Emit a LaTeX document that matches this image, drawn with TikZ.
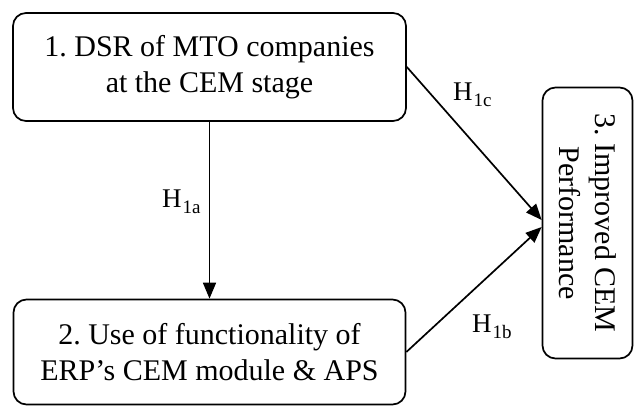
\documentclass[tikz,border=0pt]{standalone}
\usepackage{fontspec}
\setmainfont{Liberation Serif}
\usetikzlibrary{arrows.meta,calc}
\frenchspacing
% hypothesis label: H with a lowered index
\newcommand{\hyp}[1]{H\kern1pt\raisebox{-6pt}{\fontsize{19}{19}\selectfont #1}}
\begin{document}
\begin{tikzpicture}[x=1pt,y=-1pt,
  box/.style={draw, line width=1.7pt, rounded corners=13pt, inner sep=0pt,
    align=center, font=\fontsize{30}{36}\selectfont},
  link/.style={line width=1.7pt, -{Triangle[length=16pt,width=13pt]}},
  hlabel/.style={font=\fontsize{27}{27}\selectfont, inner sep=0pt, anchor=base west}]
\useasboundingbox (0,0) rectangle (636,407);

\node[box, minimum width=393pt, minimum height=108pt] (dsr) at (209.5,67)
  {1. DSR of MTO companies\\at the CEM stage};
\node[box, minimum width=392pt, minimum height=105pt] (erp) at (209.5,352)
  {2. Use of functionality of\\ERP's CEM module \& APS};
\node[box, rotate=-90, minimum width=271pt, minimum height=90pt] (perf) at (587.5,223)
  {3. Improved CEM\\Performance};

\draw[link] (dsr.south) -- (erp.north);
\draw[link] (dsr.east) -- ($(perf.south)+(0,-3)$);
\draw[link] (erp.east) -- ($(perf.south)+(0,4)$);

\node[hlabel] (h1a) at (162,207) {\hyp{1a}};
\node[hlabel] (h1c) at (453,100) {\hyp{1c}};
\node[hlabel] (h1b) at (472,332) {\hyp{1b}};
\end{tikzpicture}
\end{document}
